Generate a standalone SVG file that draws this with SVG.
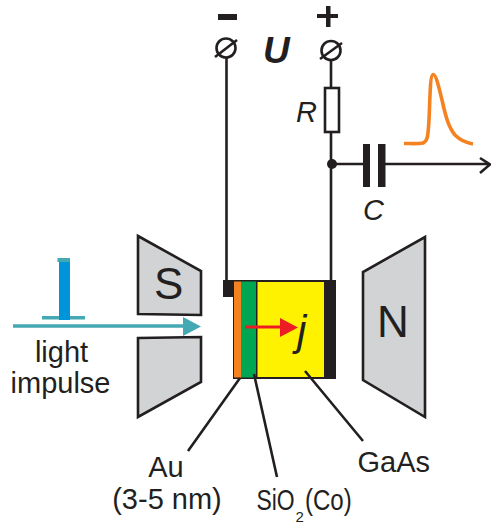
<svg xmlns="http://www.w3.org/2000/svg" width="491" height="525" viewBox="0 0 491 525">
<style>
.w{fill:none;stroke:#231f20;stroke-width:2.6}
.m{fill:#d1d3d4;stroke:#231f20;stroke-width:2.6}
.t{font-family:"Liberation Sans",Arial,sans-serif;fill:#231f20;font-size:29px}
.i{font-style:italic}
.c{text-anchor:middle}
.k{fill:#231f20}
</style>
<rect width="491" height="525" fill="#fff"/>
<g id="minus"><rect class="k" x="218" y="14" width="19" height="6"/></g>
<g id="plus"><path class="k" d="M317 14H326V6H330.500V14H338V18H330.500V27H326V18H317Z"/></g>
<g id="terminal-left"><circle class="w" cx="226" cy="48" r="9.500"/><path class="w" d="M215 57L237 40"/></g>
<g id="terminal-right"><circle class="w" cx="331" cy="50.500" r="9.500"/><path class="w" d="M320 59L342 43"/></g>
<g id="label-U"><text class="t i" x="263" y="63" style="font-weight:bold;font-size:37px">U</text></g>
<g id="resistor"><rect x="325" y="88" width="14" height="44" fill="#fff" stroke="#231f20" stroke-width="2.600"/><text class="t i" x="296" y="122">R</text></g>
<g id="junction"><circle class="k" cx="332" cy="164" r="5"/></g>
<g id="capacitor"><rect class="k" x="363" y="144" width="7" height="43"/><rect class="k" x="378" y="144" width="7.500" height="43"/><text class="t i" x="363" y="220">C</text></g>
<g id="pulse"><path d="M404 143.500C412 143.500 418 144 423 143C428 141 428 135 429 120C430 100 430 75 433 74.500C436 74 439 88 442 100C446 118 449 128 455 135C461 141 467 143 473 144" fill="none" stroke="#f58220" stroke-width="3.600"/></g>
<g id="magnet-S"><path class="m" d="M138 236L201 271V315L138 314Z"/><path class="m" d="M138 338L201 337V382L138 417Z"/><text class="t" x="154" y="299" style="font-size:44px">S</text></g>
<g id="magnet-N"><path class="m" d="M425 237V417L363 380V272Z"/><text class="t" x="377" y="337" style="font-size:44px">N</text></g>
<g id="light-impulse">
<rect x="42" y="316" width="43" height="3.500" fill="#45a9b4"/>
<rect x="57.500" y="258" width="12.500" height="4" fill="#45a9b4"/>
<rect x="59" y="262" width="11" height="58" fill="#0095da"/>
<path d="M13 326H184" stroke="#45a9b4" stroke-width="3.500" fill="none"/>
<path d="M183 317L201 326.500L183 336Z" fill="#45a9b4"/>
<text class="t c" x="61.500" y="362">light</text>
<text class="t c" x="60.500" y="393">impulse</text>
</g>
<g id="device">
<rect class="k" x="223" y="280" width="10" height="17"/>
<rect x="233" y="280" width="103" height="99" fill="#231f20"/>
<rect x="234" y="281.500" width="7" height="96" fill="#f58220"/>
<rect x="241" y="281.500" width="15" height="96" fill="#00a651"/>
<rect x="257.500" y="282" width="66.500" height="95" fill="#fff200"/>
<path d="M245 327H282" stroke="#ed1c24" stroke-width="3.200"/>
<path d="M280 318L298 327.500L280 337Z" fill="#ed1c24"/>
<text class="t i" x="297" y="345" style="font-size:42px">j</text>
</g>
<g id="label-Au"><text class="t c" x="166" y="477">Au</text><text class="t c" x="167" y="509">(3-5 nm)</text></g>
<g id="label-SiO2"><text class="t" transform="translate(256.500 510) scale(.79 1)">SiO</text><text class="t" x="295.500" y="521.500" style="font-size:15px">2</text><text class="t" transform="translate(305 510) scale(.83 1)">(Co)</text></g>
<g id="label-GaAs"><text class="t" x="357.500" y="472">GaAs</text></g>
<g id="connectors">
<path class="w" d="M226.500 57V280M331 59.500V88M331 132V280M332 164H363M385 164H489M480 158L490 164.500L480 173"/>
<path class="w" d="M240 378L188 451M254 374L277 477M305 371L363 441"/>
</g>
</svg>
